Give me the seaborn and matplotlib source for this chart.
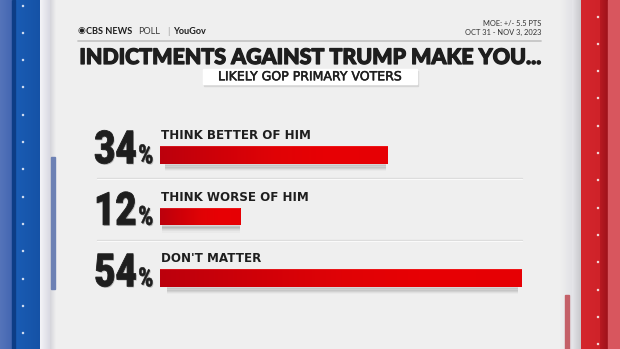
import numpy as np
import pandas as pd
import matplotlib
matplotlib.use("Agg")
import matplotlib.pyplot as plt
from matplotlib.patches import Rectangle
from matplotlib.colors import LinearSegmentedColormap
from matplotlib.transforms import Affine2D
import matplotlib.patheffects as pe
import seaborn as sns

# Poll results
categories = ["THINK BETTER OF HIM", "THINK WORSE OF HIM", "DON'T MATTER"]
values = [34, 12, 54]

title = "INDICTMENTS AGAINST TRUMP MAKE YOU..."
subtitle = "LIKELY GOP PRIMARY VOTERS"
moe_lines = ["MOE: +/- 5.5 PTS", "OCT 31 - NOV 3, 2023"]

sns.set_theme(style="white")
plt.rcParams["font.family"] = ["Lato", "DejaVu Sans"]

W, H = 620, 349
BG = "#efefef"
INK = "#1e1e1e"


class Condensed(pe.AbstractPathEffect):
    """Squeeze glyphs horizontally about one edge, with a faint drop shadow."""

    def __init__(self, sx, anchor="right", shadow_alpha=0.2, stroke=0.0):
        super().__init__()
        self.sx = sx
        self.anchor = anchor
        self.shadow_alpha = shadow_alpha
        self.stroke = stroke

    def draw_path(self, renderer, gc, tpath, affine, rgbFace=None):
        ext = tpath.get_extents()
        x_fix = ext.x1 if self.anchor == "right" else ext.x0
        t = Affine2D().translate(-x_fix, 0).scale(self.sx, 1).translate(x_fix, 0) + affine
        gc0 = renderer.new_gc()
        gc0.copy_properties(gc)
        gc0.set_alpha(self.shadow_alpha)
        gc0.set_foreground((0, 0, 0))
        renderer.draw_path(gc0, tpath, t + Affine2D().translate(1.0, -1.2),
                           (0, 0, 0, self.shadow_alpha))
        gc0.restore()
        gc1 = renderer.new_gc()
        gc1.copy_properties(gc)
        if self.stroke > 0:
            gc1.set_linewidth(self.stroke)
            gc1.set_foreground(rgbFace)
        renderer.draw_path(gc1, tpath, t, rgbFace)
        gc1.restore()


fig = plt.figure(figsize=(W / 100, H / 100), dpi=100, facecolor=BG)

# Backdrop layer in pixel coordinates (origin top-left)
bg = fig.add_axes([0, 0, 1, 1], zorder=0)
bg.set_xlim(0, W)
bg.set_ylim(H, 0)
bg.axis("off")
bg.add_patch(Rectangle((0, 0), W, H, color=BG, zorder=0))


def hgrad(ax, x0, x1, y0, y1, c0, c1, z=1):
    cmap = LinearSegmentedColormap.from_list("g", [c0, c1])
    ax.imshow(np.linspace(0, 1, 64)[None, :], cmap=cmap, aspect="auto",
              extent=(x0, x1, y1, y0), zorder=z, interpolation="bilinear")


# Left blue frame
hgrad(bg, 0, 12, 0, H, "#5574ba", "#4467b2", z=1)
bg.add_patch(Rectangle((12, 0), 2.5, H, color="#0d3d86", zorder=2))
hgrad(bg, 14.5, 40, 0, H, "#1a5cb4", "#1552a6", z=1)
hgrad(bg, 40, 50, 0, H, "#f4f4f8", "#d9d9e2", z=1)
hgrad(bg, 50, 56, 0, H, "#d4d4da", BG, z=1)
bg.add_patch(Rectangle((51, 157), 3.5, 132, color="#6d81b4", zorder=2))
for yy in np.arange(5, H, 27.3):
    bg.add_patch(Rectangle((21.5, yy - 0.5), 1.6, 1.0, color="#d8e2f4", zorder=3))

# Right red frame
hgrad(bg, 560, 572, 0, H, BG, "#e2e2e6", z=1)
hgrad(bg, 572, 581, 0, H, "#e6e6ea", "#c8c8cc", z=1)
hgrad(bg, 581, 600, 0, H, "#d4262d", "#cf2229", z=1)
hgrad(bg, 600, 608, 0, H, "#b81a22", "#9e121a", z=1)
bg.add_patch(Rectangle((608, 0), 12, H, color="#d8565e", zorder=1))
bg.add_patch(Rectangle((565, 295), 3.5, 60, color="#c46068", zorder=2))
for yy in np.arange(16, H, 27.3):
    bg.add_patch(Rectangle((596.5, yy - 0.5), 1.6, 1.0, color="#f4dede", zorder=3))

# Header
bg.text(78, 31, "\u25c9", fontsize=6.5, color=INK, va="center", ha="left",
        family=["DejaVu Sans"])
bg.text(86, 31, "CBS NEWS", fontsize=6.6, color=INK, fontweight="bold",
        va="center", ha="left")
bg.text(138, 31, "POLL", fontsize=6.6, color="#3a3a3a", fontweight="normal",
        va="center", ha="left")
bg.text(168, 31, "|", fontsize=6.6, color="#9a9a9a", va="center", ha="center")
bg.text(173, 31, "YouGov", fontsize=6.6, color=INK, fontweight="bold",
        va="center", ha="left")
bg.text(541, 23, moe_lines[0], fontsize=5.4, color="#333333", va="center", ha="right")
bg.text(541, 32, moe_lines[1], fontsize=5.4, color="#333333", va="center", ha="right")
bg.plot([78, 541], [40.5, 40.5], color="#c6c6c6", lw=1.3, zorder=2)

bg.text(310, 57.5, title, fontsize=15.4, color=INK, fontweight="black",
        va="center", ha="center",
        path_effects=[pe.withStroke(linewidth=0.9, foreground=INK)])

bg.add_patch(Rectangle((204, 70.5), 214, 15, color="#d6d6d6", zorder=2))
bg.add_patch(Rectangle((203, 69), 214, 15, color="white", zorder=3))
bg.text(310, 76.8, subtitle, fontsize=9.0, color=INK, fontweight="normal",
        va="center", ha="center", zorder=4, family=["DejaVu Sans"],
        path_effects=[pe.withStroke(linewidth=0.35, foreground=INK)])

# Row separators
for yy in (178, 240):
    bg.plot([97, 522], [yy, yy], color="#dcdcdc", lw=1.0, zorder=2)
    bg.plot([97, 522], [yy + 1.2, yy + 1.2], color="#fafafa", lw=0.8, zorder=2)

# Bar chart
spacing = 61.5
ax_top = 155 - spacing / 2
ax = fig.add_axes([160 / W, 1 - (ax_top + 3 * spacing) / H,
                   (522 - 160) / W, 3 * spacing / H], zorder=2)
ax.set_facecolor("none")

df = pd.DataFrame({"category": categories, "value": values})
sns.barplot(data=df, x="value", y="category", orient="h", ax=ax,
            color="#e40006", width=0.29, saturation=1, edgecolor="none")
ax.set_xlim(0, max(values))
ax.set_ylim(2.5, -0.5)
ax.axis("off")

bar_cmap = LinearSegmentedColormap.from_list(
    "bar", ["#bc000d", "#cf0008", "#e00306", "#e80004", "#e60005"])
px_y = 3 / (3 * spacing)
for p in list(ax.patches):
    x0, y0 = p.get_x(), p.get_y()
    w, h = p.get_width(), p.get_height()
    # soft drop shadow beneath each bar
    for k, a in enumerate([0.10, 0.08, 0.06, 0.04, 0.025]):
        ax.add_patch(Rectangle((x0 + w * 0.02, y0 + h + (k - 0.5) * px_y * 1.2),
                               w * 0.97, px_y * 3.0, color="black", alpha=a,
                               lw=0, zorder=0.5))
    im = ax.imshow(np.linspace(0, 1, 128)[None, :], cmap=bar_cmap, aspect="auto",
                   extent=(x0, x0 + w, y0 + h, y0), zorder=2,
                   interpolation="bilinear")
    im.set_clip_path(p)
    ax.add_patch(Rectangle((x0, y0), w, px_y * 1.0, color="#ff4040",
                           alpha=0.35, lw=0, zorder=3))
ax.set_xlim(0, max(values))
ax.set_ylim(2.5, -0.5)

for i, (cat, v) in enumerate(zip(categories, values)):
    ax.annotate(cat, xy=(0, i), xytext=(0.8, 11.3), textcoords="offset points",
                fontsize=8.6, fontweight="bold", color=INK, ha="left",
                va="baseline", family=["DejaVu Sans"])
    ax.annotate(f"{v}", xy=(0, i), xytext=(-16.6, -6.0), textcoords="offset points",
                fontsize=33, fontweight="black", color=INK, ha="right",
                va="baseline", family=["Roboto", "DejaVu Sans"],
                path_effects=[Condensed(0.8, "right", stroke=0.6)])
    ax.annotate("%", xy=(0, i), xytext=(-15.8, -6.0), textcoords="offset points",
                fontsize=19, fontweight="black", color=INK, ha="left",
                va="baseline", family=["Roboto", "DejaVu Sans"],
                path_effects=[Condensed(0.76, "left", stroke=0.4)])

fig.savefig("out.png", dpi=100, facecolor=BG)
